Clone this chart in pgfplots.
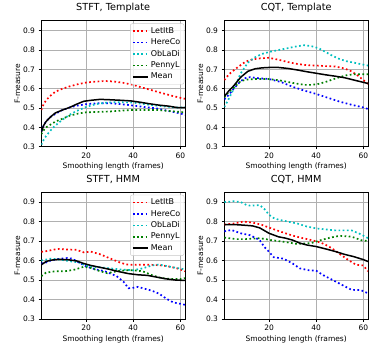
\documentclass[border=0pt]{standalone}
\usepackage{pgfplots}
\pgfplotsset{compat=1.18}
\usepackage{fontspec}
\setmainfont{DejaVu Sans}
\definecolor{mred}{rgb}{1,0,0}
\definecolor{mblue}{rgb}{0,0,1}
\definecolor{mcyan}{rgb}{0,0.75,0.75}
\definecolor{mgreen}{rgb}{0,0.5,0}
\definecolor{gridc}{RGB}{176,176,176}
\definecolor{legframe}{RGB}{200,200,200}
\pgfplotsset{
  dotline/.style={line width=1.7pt, dash pattern=on 1.7pt off 2.5pt},
  panel/.style={
    scale only axis, width=143.7pt, height=126pt,
    anchor=south west,
    xmin=1, xmax=62, ymin=0.3, ymax=0.952,
    xtick={20,40,60}, ytick={0.3,0.4,0.5,0.6,0.7,0.8,0.9},
    yticklabel style={/pgf/number format/.cd, fixed, fixed zerofill, precision=1},
    /pgf/number format/assume math mode=true,
    tick label style={font=\fontsize{7.5}{9}\selectfont},
    tick pos=left, tick align=outside, major tick length=2.8pt,
    tick style={black, line width=0.6pt},
    axis line style={line width=0.7pt},
    grid=major, major grid style={gridc, line width=0.7pt},
    xlabel={Smoothing length (frames)}, ylabel={F-measure},
    xlabel style={at={(axis description cs:0.5,0)}, anchor=base, yshift=-22pt, inner sep=0pt, font=\fontsize{7.5}{9}\selectfont},
    ylabel style={at={(axis description cs:-0.148,0.5)}, anchor=base, inner sep=0pt, font=\fontsize{7.5}{9}\selectfont},
    title style={at={(axis description cs:0.5,1)}, anchor=base, yshift=4pt, inner sep=0pt, font=\fontsize{9.7}{11}\selectfont},
    legend style={at={(axis description cs:0.995,0.978)}, anchor=north east,
      font=\fontsize{8}{9}\selectfont, draw=legframe, rounded corners=2pt,
      fill=white, fill opacity=0.8, draw opacity=1, text opacity=1, inner sep=1.8pt, row sep=0pt},
    legend image code/.code={\draw[#1] (0pt,0pt) -- (15pt,0pt);},
    legend cell align=left,
  },
}
\begin{document}
\begin{tikzpicture}
% ---------- STFT, Template ----------
\begin{axis}[panel, at={(41.3pt,198.3pt)}, title={STFT, Template}]
\addplot[mred, dotline] coordinates {(1,0.49)(2,0.52)(3,0.54)(5,0.565)(7,0.585)(10,0.60)(13,0.612)(16,0.622)(20,0.632)(24,0.637)(28,0.64)(32,0.637)(36,0.63)(40,0.62)(44,0.605)(48,0.592)(52,0.578)(56,0.565)(60,0.553)(62,0.548)};
\addlegendentry{LetItB}
\addplot[mblue, dotline] coordinates {(1,0.38)(2,0.41)(3,0.43)(5,0.455)(7,0.47)(10,0.49)(13,0.503)(16,0.512)(20,0.52)(25,0.525)(30,0.525)(35,0.52)(40,0.513)(45,0.505)(50,0.498)(55,0.485)(60,0.472)(62,0.465)};
\addlegendentry{HereCo}
\addplot[mcyan, dotline] coordinates {(1,0.31)(2,0.335)(3,0.355)(5,0.385)(7,0.41)(10,0.44)(13,0.465)(16,0.485)(20,0.505)(24,0.52)(28,0.527)(32,0.53)(36,0.53)(40,0.528)(44,0.522)(48,0.515)(52,0.51)(56,0.505)(60,0.502)(62,0.505)};
\addlegendentry{ObLaDi}
\addplot[mgreen, dotline] coordinates {(1,0.365)(2,0.385)(3,0.4)(5,0.415)(7,0.43)(10,0.445)(13,0.46)(16,0.47)(20,0.478)(25,0.48)(30,0.482)(35,0.487)(40,0.49)(45,0.49)(50,0.49)(55,0.485)(60,0.48)(62,0.477)};
\addlegendentry{PennyL}
\addplot[black, line width=1.5pt] coordinates {(1,0.375)(2,0.41)(3,0.43)(5,0.455)(7,0.475)(10,0.49)(13,0.503)(16,0.52)(19,0.535)(22,0.54)(26,0.545)(30,0.543)(35,0.54)(39,0.537)(43,0.53)(47,0.522)(51,0.515)(55,0.51)(59,0.502)(62,0.502)};
\addlegendentry{Mean}
\end{axis}
% ---------- CQT, Template ----------
\begin{axis}[panel, at={(224.3pt,198.3pt)}, title={CQT, Template}]
\addplot[mred, dotline] coordinates {(1,0.645)(3,0.675)(6,0.705)(10,0.74)(13,0.752)(16,0.757)(20,0.76)(24,0.75)(28,0.738)(32,0.728)(36,0.722)(40,0.72)(44,0.717)(48,0.715)(52,0.705)(55,0.69)(58,0.665)(60,0.645)(62,0.625)};
\addplot[mblue, dotline] coordinates {(1,0.545)(3,0.57)(5,0.6)(8,0.64)(10,0.655)(12,0.66)(15,0.655)(20,0.65)(25,0.635)(30,0.61)(35,0.59)(40,0.573)(45,0.553)(50,0.533)(55,0.517)(60,0.503)(62,0.495)};
\addplot[mcyan, dotline] coordinates {(1,0.505)(3,0.55)(5,0.6)(8,0.68)(11,0.735)(14,0.762)(17,0.78)(20,0.79)(24,0.8)(28,0.81)(32,0.82)(35,0.825)(38,0.82)(41,0.81)(44,0.79)(47,0.77)(50,0.753)(53,0.742)(56,0.735)(59,0.727)(62,0.72)};
\addplot[mgreen, dotline] coordinates {(1,0.555)(3,0.585)(5,0.605)(8,0.64)(11,0.648)(14,0.65)(20,0.65)(25,0.642)(30,0.63)(35,0.62)(38,0.62)(41,0.625)(44,0.635)(47,0.648)(50,0.66)(53,0.67)(56,0.675)(60,0.675)(62,0.675)};
\addplot[black, line width=1.5pt] coordinates {(1,0.56)(3,0.59)(5,0.615)(8,0.66)(11,0.69)(14,0.703)(17,0.708)(20,0.71)(24,0.71)(28,0.705)(32,0.697)(36,0.688)(40,0.68)(44,0.672)(48,0.665)(52,0.657)(56,0.645)(60,0.633)(62,0.627)};
\end{axis}
% ---------- STFT, HMM ----------
\begin{axis}[panel, at={(41.3pt,26pt)}, height=127pt, title={STFT, HMM}]
\addplot[mred, dotline] coordinates {(1,0.645)(3,0.648)(5,0.653)(8,0.66)(12,0.657)(16,0.655)(19,0.642)(22,0.646)(26,0.632)(30,0.612)(34,0.592)(37,0.58)(40,0.578)(44,0.579)(48,0.578)(52,0.575)(55,0.57)(58,0.562)(60,0.555)(62,0.545)};
\addlegendentry{LetItB}
\addplot[mblue, dotline] coordinates {(1,0.585)(3,0.59)(5,0.6)(8,0.608)(12,0.613)(14,0.61)(17,0.59)(20,0.57)(24,0.555)(28,0.545)(30,0.535)(33,0.52)(36,0.49)(38,0.458)(40,0.46)(42,0.465)(45,0.455)(48,0.445)(51,0.43)(54,0.405)(57,0.385)(60,0.378)(62,0.373)};
\addlegendentry{HereCo}
\addplot[mcyan, dotline] coordinates {(1,0.6)(5,0.61)(9,0.605)(13,0.597)(17,0.59)(21,0.57)(26,0.565)(30,0.56)(34,0.555)(40,0.55)(44,0.56)(48,0.575)(51,0.58)(54,0.572)(58,0.563)(62,0.555)};
\addlegendentry{ObLaDi}
\addplot[mgreen, dotline] coordinates {(1,0.52)(3,0.538)(7,0.545)(11,0.545)(15,0.553)(19,0.568)(22,0.562)(26,0.545)(29,0.535)(33,0.545)(37,0.55)(40,0.55)(44,0.545)(48,0.525)(52,0.51)(56,0.505)(60,0.505)(62,0.51)};
\addlegendentry{PennyL}
\addplot[black, line width=1.5pt] coordinates {(1,0.578)(3,0.595)(5,0.602)(8,0.606)(12,0.605)(16,0.598)(19,0.585)(22,0.575)(26,0.565)(30,0.555)(34,0.543)(38,0.533)(42,0.527)(46,0.524)(50,0.515)(54,0.506)(58,0.5)(62,0.498)};
\addlegendentry{Mean}
\end{axis}
% ---------- CQT, HMM ----------
\begin{axis}[panel, at={(224.3pt,26pt)}, height=127pt, title={CQT, HMM}]
\addplot[mred, dotline] coordinates {(1,0.785)(5,0.79)(9,0.8)(13,0.795)(17,0.783)(21,0.765)(25,0.748)(30,0.728)(34,0.716)(38,0.705)(42,0.692)(45,0.675)(48,0.652)(51,0.625)(54,0.6)(57,0.578)(60,0.575)(62,0.545)};
\addplot[mblue, dotline] coordinates {(1,0.75)(4,0.757)(8,0.74)(12,0.73)(16,0.705)(18,0.67)(20,0.645)(22,0.617)(26,0.61)(30,0.585)(33,0.56)(37,0.55)(40,0.548)(43,0.525)(47,0.5)(51,0.475)(55,0.45)(59,0.448)(62,0.432)};
\addplot[mcyan, dotline] coordinates {(1,0.9)(3,0.902)(5,0.905)(8,0.9)(11,0.882)(14,0.883)(16,0.885)(18,0.865)(20,0.835)(22,0.818)(24,0.81)(28,0.8)(32,0.79)(36,0.775)(40,0.765)(44,0.76)(48,0.755)(52,0.755)(55,0.755)(58,0.74)(60,0.728)(62,0.715)};
\addplot[mgreen, dotline] coordinates {(1,0.718)(6,0.71)(10,0.71)(16,0.715)(21,0.705)(27,0.695)(32,0.685)(38,0.69)(42,0.705)(46,0.718)(50,0.727)(55,0.723)(59,0.705)(62,0.7)};
\addplot[black, line width=1.5pt] coordinates {(1,0.785)(5,0.785)(9,0.782)(13,0.778)(16,0.768)(20,0.74)(24,0.722)(27,0.715)(30,0.705)(33,0.69)(36,0.68)(40,0.672)(44,0.66)(48,0.647)(52,0.632)(56,0.62)(60,0.605)(62,0.595)};
\end{axis}
\pgfresetboundingbox
\useasboundingbox (0pt,0pt) rectangle (369pt,345pt);
\end{tikzpicture}
\end{document}
